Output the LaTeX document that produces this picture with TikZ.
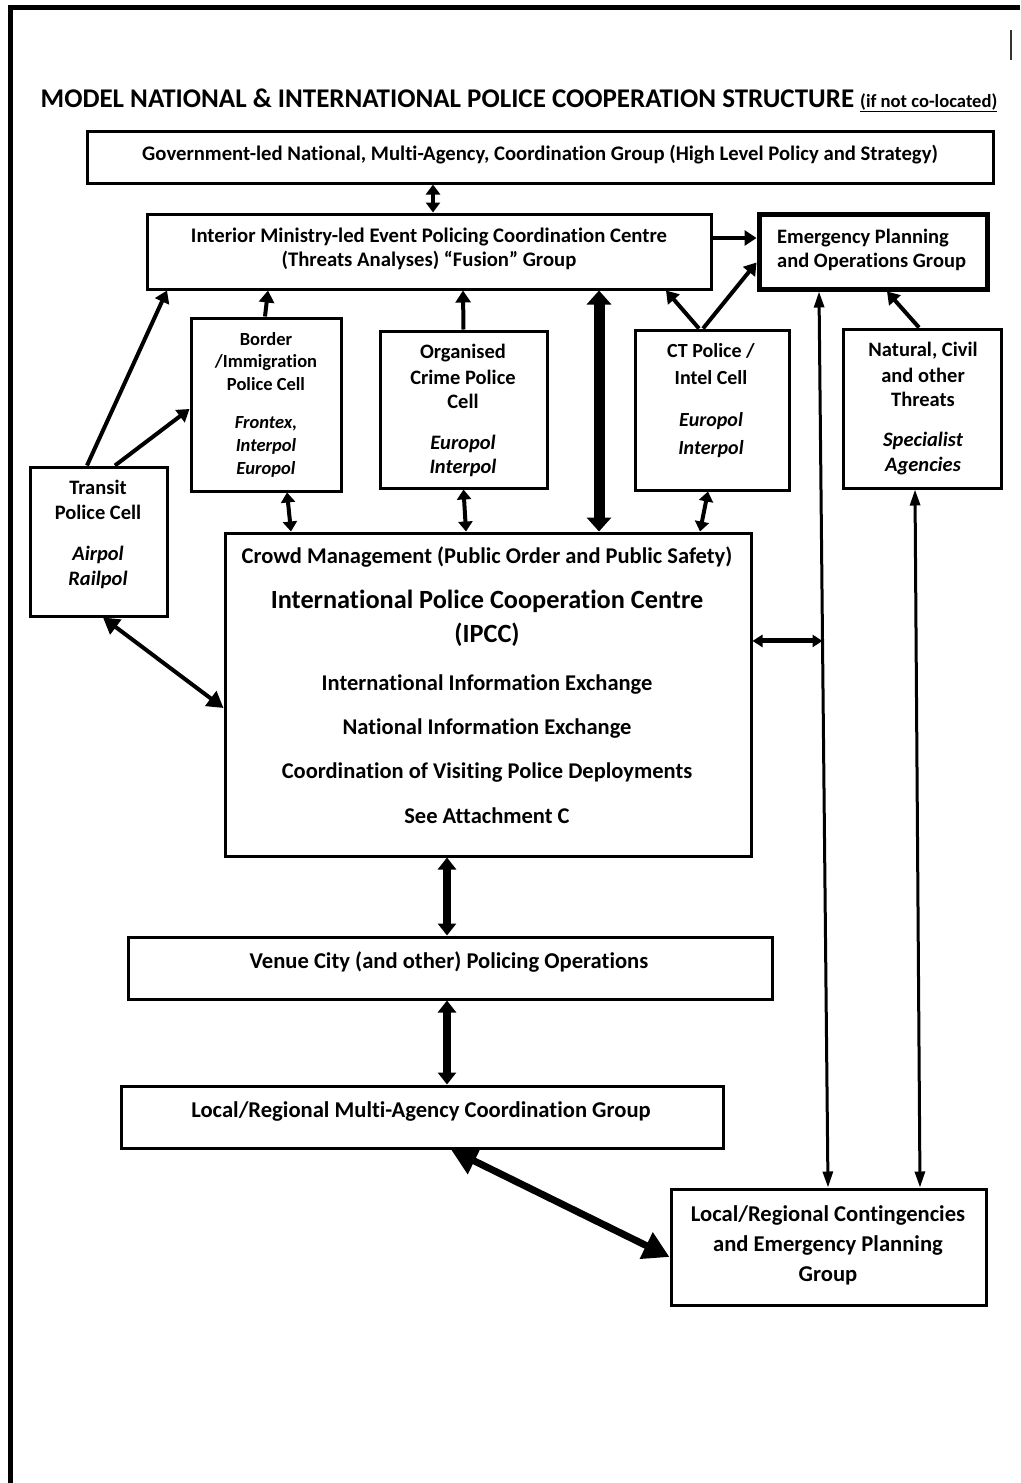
\documentclass[tikz,border=0pt]{standalone}
\usepackage{fontspec}
\setmainfont[Ligatures={NoCommon}]{Carlito}
\usetikzlibrary{arrows.meta,calc}
\newcommand\fsz[1]{\fontsize{#1}{#1}\selectfont\bfseries}
\newcommand\fsi[1]{\fontsize{#1}{#1}\selectfont\bfseries\itshape}
\begin{document}
\begin{tikzpicture}[x=1pt,y=-1pt,
  box/.style={draw,line width=3,inner sep=0,fill=none},
  tx/.style={anchor=base,inner sep=0},
  arr/.style={line width=4,>={Triangle[length=12pt,width=15pt]}},
  sarr/.style={line width=4,>={Triangle[length=10pt,width=14pt]}},
  fat/.style={line width=11,>={Triangle[length=14pt,width=24pt]}},
  fatb/.style={line width=8,>={Triangle[length=12pt,width=18pt]}},
  longl/.style={line width=3,>={Triangle[length=16pt,width=10pt]}},
  harr/.style={line width=5,>={Triangle[length=10pt,width=12pt]}},
  diag/.style={line width=7,>={Triangle[length=26pt,width=28pt]}}]
\useasboundingbox (0,0) rectangle (1020,1483);
\fill[white] (0,0) rectangle (1020,1483);
% frame
\draw[line width=5] (10,1483) -- (10,7.5) -- (1020,7.5);
\draw[line width=1.5,black!80] (1011,30) -- (1011,60);
% title
\node[tx] (title) at (519,107) {\fsz{27}MODEL NATIONAL \& INTERNATIONAL POLICE COOPERATION STRUCTURE \fsz{18.6}\underline{(if not co-located)}};
% boxes
\node[box,minimum width=906,minimum height=52] (gov) at (540,157) {};
\node[box,minimum width=564,minimum height=75] (int) at (429,251.5) {};
\node[box,line width=5,minimum width=228,minimum height=75] (emg) at (873,251.5) {};
\node[box,minimum width=150,minimum height=173] (brd) at (266,404.5) {};
\node[box,minimum width=167,minimum height=157] (org) at (463.5,409.5) {};
\node[box,minimum width=154,minimum height=160] (ct) at (712,410) {};
\node[box,minimum width=158,minimum height=159] (nat) at (922,408.5) {};
\node[box,minimum width=137,minimum height=149] (trn) at (98.5,541.5) {};
\node[box,minimum width=526,minimum height=323] (ipcc) at (488,694.5) {};
\node[box,minimum width=644,minimum height=62] (ven) at (450,968) {};
\node[box,minimum width=602,minimum height=62] (loc) at (422,1117) {};
\node[box,minimum width=315,minimum height=116] (cont) at (828.5,1247) {};
% texts
\node[tx] (govt) at (540,160) {\fsz{20.7}Government-led National, Multi-Agency, Coordination Group (High Level Policy and Strategy)};
\node[tx] (intt1) at (429,242) {\fsz{20.7}Interior Ministry-led Event Policing Coordination Centre};
\node[tx] (intt2) at (429,266) {\fsz{20.7}(Threats Analyses) “Fusion” Group};
\node[tx,anchor=base west] (emgt1) at (777,243) {\fsz{20.5}Emergency Planning};
\node[tx,anchor=base west] (emgt2) at (777,267) {\fsz{20.5}and Operations Group};
\node[tx] (brdt1) at (266,345) {\fsz{18.5}Border};
\node[tx] (brdt2) at (266,367) {\fsz{18.5}/Immigration};
\node[tx] (brdt3) at (266,390) {\fsz{18.5}Police Cell};
\node[tx] (brdt4) at (266,428) {\fsi{18.5}Frontex,};
\node[tx] (brdt5) at (266,451) {\fsi{18.5}Interpol};
\node[tx] (brdt6) at (266,474) {\fsi{18.5}Europol};
\node[tx] (orgt1) at (463,358) {\fsz{20.5}Organised};
\node[tx] (orgt2) at (463,384) {\fsz{20.5}Crime Police};
\node[tx] (orgt3) at (463,408) {\fsz{20.5}Cell};
\node[tx] (orgt4) at (463,449) {\fsi{20.5}Europol};
\node[tx] (orgt5) at (463,473) {\fsi{20.5}Interpol};
\node[tx] (ctt1) at (711,357) {\fsz{20}CT Police /};
\node[tx] (ctt2) at (711,384) {\fsz{20}Intel Cell};
\node[tx] (ctt3) at (711,426) {\fsi{20}Europol};
\node[tx] (ctt4) at (711,454) {\fsi{20}Interpol};
\node[tx] (natt1) at (923,356) {\fsz{20.5}Natural, Civil};
\node[tx] (natt2) at (923,382) {\fsz{20.5}and other};
\node[tx] (natt3) at (923,406) {\fsz{20.5}Threats};
\node[tx] (natt4) at (923,446) {\fsi{20.5}Specialist};
\node[tx] (natt5) at (923,471) {\fsi{20.5}Agencies};
\node[tx] (trnt1) at (98,494) {\fsz{20.5}Transit};
\node[tx] (trnt2) at (98,519) {\fsz{20.5}Police Cell};
\node[tx] (trnt3) at (98,560) {\fsi{20.5}Airpol};
\node[tx] (trnt4) at (98,585) {\fsi{20.5}Railpol};
\node[tx] (ipt1) at (487,563) {\fsz{22.5}Crowd Management (Public Order and Public Safety)};
\node[tx] (ipt2) at (487,608) {\fsz{26.3}International Police Cooperation Centre};
\node[tx] (ipt3) at (487,642) {\fsz{26.3}(IPCC)};
\node[tx] (ipt4) at (487,690) {\fsz{22.5}International Information Exchange};
\node[tx] (ipt5) at (487,734) {\fsz{22.5}National Information Exchange};
\node[tx] (ipt6) at (487,778) {\fsz{22.5}Coordination of Visiting Police Deployments};
\node[tx] (ipt7) at (487,823) {\fsz{22.5}See Attachment C};
\node[tx] (vent) at (449,968) {\fsz{22.6}Venue City (and other) Policing Operations};
\node[tx] (loct) at (421,1117) {\fsz{22.6}Local/Regional Multi-Agency Coordination Group};
\node[tx] (contt1) at (828,1221) {\fsz{22.6}Local/Regional Contingencies};
\node[tx] (contt2) at (828,1251) {\fsz{22.6}and Emergency Planning};
\node[tx] (contt3) at (828,1281) {\fsz{22.6}Group};
% connectors
\draw[sarr,<->] ([xshift=-107]gov.south) -- ([xshift=4]int.north);
\draw[arr,->] ([yshift=13.5]int.east) -- ([yshift=13.5]emg.west);
\draw[arr,->] ([xshift=-1]brd.north) -- ([xshift=-161]int.south);
\draw[arr,->] ([xshift=0]org.north) -- ([xshift=34]int.south);
\draw[arr,->] ([xshift=-13]ct.north) -- ([xshift=237]int.south);
\draw[arr,->] ([xshift=-9]ct.north) -- ([yshift=-11]emg.west);
\draw[arr,->] ([xshift=-3]nat.north) -- ([xshift=14]emg.south);
\draw[arr,->] ([xshift=-11.5]trn.north) -- ([xshift=-262]int.south);
\draw[arr,->] ([xshift=16.5]trn.north) -- ([yshift=-4.5]brd.west);
\draw[sarr,<->] ([xshift=21]brd.south) -- ([xshift=-197]ipcc.north);
\draw[sarr,<->] ([xshift=0]org.south) -- ([xshift=-22]ipcc.north);
\draw[sarr,<->] ([xshift=-4]ct.south) -- ([xshift=212]ipcc.north);
\draw[fat,<->] ([xshift=170]int.south) -- ([xshift=111]ipcc.north);
\draw[arr,>={Triangle[length=16pt,width=18pt]},<->] ([xshift=4.5]trn.south) -- ([yshift=-13.5]ipcc.west);
\coordinate (l1a) at ([xshift=-54]emg.south);
\coordinate (l1b) at ([xshift=-0.5]cont.north);
\draw[longl,<->] (l1a) -- (l1b);
\coordinate (l1j) at ($(l1a)!0.39!(l1b)$);
\draw[harr,<->] (ipcc.east |- l1j) -- (l1j);
\draw[longl,<->] ([xshift=-7]nat.south) -- ([xshift=91.5]cont.north);
\draw[fatb,<->] ([xshift=-41]ipcc.south) -- ([xshift=-3]ven.north);
\draw[fatb,<->] ([xshift=-3]ven.south) -- ([xshift=25]loc.north);
\draw[diag,<->] ([xshift=29]loc.south) -- ([yshift=-10]cont.west);
\end{tikzpicture}
\end{document}
